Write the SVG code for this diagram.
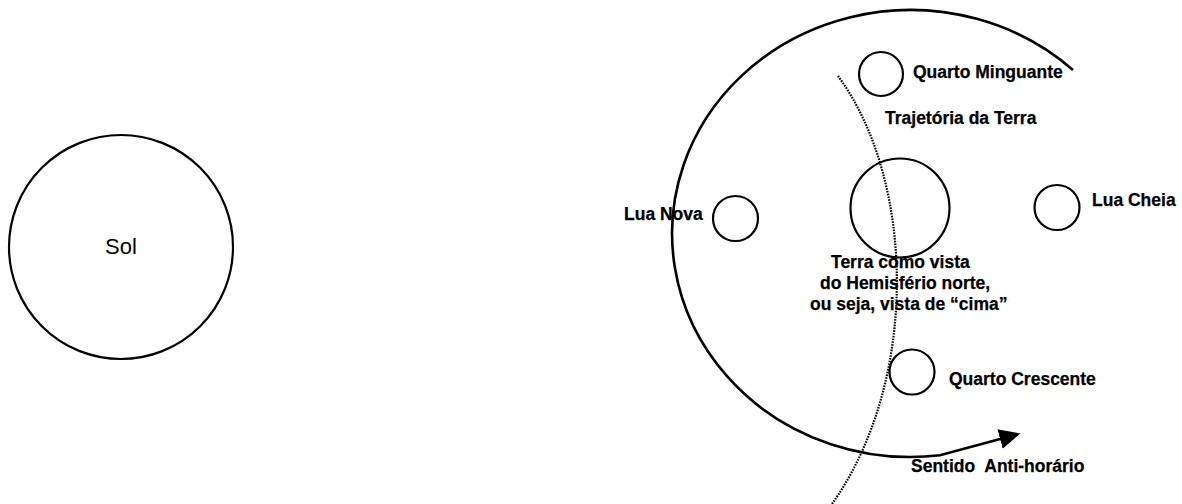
<svg xmlns="http://www.w3.org/2000/svg" width="1182" height="504" viewBox="0 0 1182 504">
  <style>
    .body { fill: none; stroke: #000; stroke-width: 2.2; }
    .lbl { font-family: "Liberation Sans", Arial, sans-serif; font-weight: bold; font-size: 17.5px; fill: #000; stroke: #000; stroke-width: 0.25; }
    .sol { font-family: "Liberation Sans", Arial, sans-serif; font-size: 22px; fill: #000; }
    .orbit { fill: none; stroke: #000; stroke-width: 2.6; }
    .path { fill: none; stroke: #000; stroke-width: 2.2; stroke-dasharray: 1.6 1.2; }
  </style>
  <defs>
    <marker id="arrow" markerUnits="userSpaceOnUse" markerWidth="24" markerHeight="22" refX="2" refY="10" orient="auto">
      <polygon points="0,0 21,10 0,20" fill="#000"/>
    </marker>
  </defs>
  <rect width="1182" height="504" fill="#fff"/>

  <g id="sol">
    <circle class="body" cx="121" cy="247" r="112"/>
    <text class="sol" x="121" y="254" text-anchor="middle">Sol</text>
  </g>

  <g id="terra">
    <circle class="body" cx="900" cy="208" r="49.5"/>
    <text class="lbl" x="831" y="268">Terra como vista</text>
    <text class="lbl" x="820" y="289">do Hemisfério norte,</text>
    <text class="lbl" x="810" y="310">ou seja, vista de “cima”</text>
  </g>

  <g id="quarto-minguante">
    <circle class="body" cx="881" cy="74" r="22"/>
    <text class="lbl" x="913" y="78">Quarto Minguante</text>
  </g>

  <g id="lua-nova">
    <circle class="body" cx="735.5" cy="218.5" r="22.5"/>
    <text class="lbl" x="624" y="220">Lua Nova</text>
  </g>

  <g id="lua-cheia">
    <circle class="body" cx="1057" cy="207.5" r="22.5"/>
    <text class="lbl" x="1092" y="206">Lua Cheia</text>
  </g>

  <g id="quarto-crescente">
    <circle class="body" cx="912" cy="372" r="22.5"/>
    <text class="lbl" x="949" y="385">Quarto Crescente</text>
  </g>

  <g id="connectors">
    <path id="orbita" class="orbit" d="M1073,70 A238.4,223.5 0 1,0 940,455.3 L1002,438.5" marker-end="url(#arrow)"/>
    <path id="trajetoria" class="path" d="M838,76 C915,180 920,380 832,504"/>
  </g>

  <g id="labels">
    <text class="lbl" x="885" y="124">Trajetória da Terra</text>
    <text class="lbl" x="911" y="472" xml:space="preserve">Sentido  Anti-horário</text>
  </g>
</svg>
